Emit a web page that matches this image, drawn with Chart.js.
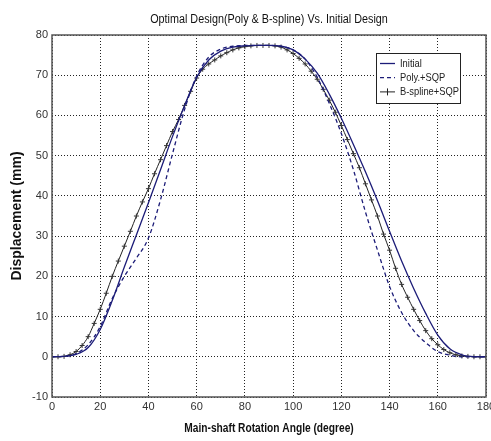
<!DOCTYPE html>
<html>
<head>
<meta charset="utf-8">
<script src="https://cdn.jsdelivr.net/npm/chart.js@4.4.1/dist/chart.umd.min.js"></script>
<style>
  html, body { margin: 0; padding: 0; background: #fff; }
</style>
</head>
<body>
<canvas id="camChart" width="491" height="441"></canvas>
<script>
// angles every 5 degrees for the two navy curves
const angleCoarse = [0, 5, 10, 15, 20, 25, 30, 35, 40, 45, 50, 55, 60, 65, 70, 75, 80, 85, 90,
    95, 100, 105, 110, 115, 120, 125, 130, 135, 140, 145, 150, 155, 160, 165, 170, 175, 180];
const initialDisp = [0, 0.1, 0.6, 2.3, 6.8, 14, 22.3, 30.3, 38.3, 46.5, 54.8, 62.5, 69.5, 73.8, 76, 77, 77.3, 77.4, 77.4,
    77.2, 76.3, 74, 70.5, 65.3, 59.3, 52.8, 46, 38.8, 31.2, 23.8, 17, 10.8, 5.4, 2, 0.5, 0.05, 0];
const polyDisp = [0, 0.1, 0.8, 3, 7.5, 14.5, 20, 24.5, 29.5, 39, 50.5, 61.5, 69.8, 74.5, 76.5, 77.2, 77.4, 77.4, 77.4,
    77.2, 76.3, 74, 69.5, 63, 55.5, 46.5, 36, 26.5, 17.5, 11, 6.5, 3.5, 1.3, 0.4, 0, 0, 0];

// b-spline result has dense markers, read every 2.5 degrees
const angleFine = [0, 2.5, 5, 7.5, 10, 12.5, 15, 17.5, 20, 22.5, 25, 27.5, 30, 32.5, 35, 37.5, 40, 42.5, 45, 47.5,
    50, 52.5, 55, 57.5, 60, 62.5, 65, 67.5, 70, 72.5, 75, 77.5, 80, 82.5, 85, 87.5, 90, 92.5, 95, 97.5,
    100, 102.5, 105, 107.5, 110, 112.5, 115, 117.5, 120, 122.5, 125, 127.5, 130, 132.5, 135, 137.5, 140, 142.5, 145, 147.5,
    150, 152.5, 155, 157.5, 160, 162.5, 165, 167.5, 170, 172.5, 175, 177.5, 180];
const bsplineDisp = [0, 0, 0.1, 0.5, 1.3, 2.8, 5, 8.3, 11.8, 15.8, 20, 23.8, 27.5, 31.2, 35, 38.5, 41.8, 45.5, 49, 52.5,
    56, 59, 62.5, 66, 69.3, 71.5, 72.8, 73.8, 74.8, 75.6, 76.3, 76.8, 77.1, 77.3, 77.4, 77.4, 77.4, 77.3, 77, 76.3,
    75.4, 74.2, 72.8, 71, 69, 66.5, 63.8, 60.8, 57.5, 54, 50.5, 47, 43, 39, 35, 30.5, 26.5, 22, 18, 14.8,
    11.8, 9, 6.5, 4.5, 3, 1.8, 1, 0.5, 0.2, 0.1, 0, 0, 0];

const seriesLabels = ['Initial', 'Poly.+SQP', 'B-spline+SQP'];
const chartTitle = 'Optimal Design(Poly & B-spline) Vs. Initial Design';
const xTitle = 'Main-shaft Rotation Angle (degree)';

const navy = '#1c1c78';
const sans = "'Liberation Sans', Arial, sans-serif";

Chart.defaults.font.family = sans;

function toPoints(xs, ys) {
    return xs.map((x, i) => ({ x: x, y: ys[i] }));
}

// box around the plot area like matlab's axes
const framePlugin = {
    id: 'frame',
    afterDatasetsDraw(chart) {
        const { ctx, chartArea: a } = chart;
        ctx.save();
        ctx.strokeStyle = '#555';
        ctx.lineWidth = 1.5;
        ctx.strokeRect(a.left, a.top, a.right - a.left, a.bottom - a.top);
        ctx.restore();
    }
};

// the original uses a condensed font for the title and x label, squeeze them a bit
function narrowText(ctx, text, cx, cy, font, squeeze) {
    ctx.save();
    ctx.font = font;
    ctx.fillStyle = '#111';
    ctx.textAlign = 'center';
    ctx.textBaseline = 'middle';
    ctx.translate(cx, cy);
    ctx.scale(squeeze, 1);
    ctx.fillText(text, 0, 0);
    ctx.restore();
}

const titlesPlugin = {
    id: 'titles',
    afterDraw(chart) {
        const ctx = chart.ctx;
        const a = chart.chartArea;
        const cx = (a.left + a.right) / 2;
        narrowText(ctx, chartTitle, cx, 20, '12px ' + sans, 0.9);
        narrowText(ctx, xTitle, cx, 429, 'bold 12px ' + sans, 0.85);
    }
};

// legend box in the top right corner of the axes
const boxLegend = {
    id: 'boxLegend',
    afterDraw(chart) {
        const ctx = chart.ctx;
        const a = chart.chartArea;
        const left = a.right - 110, top = a.top + 18, w = 84, h = 50;
        ctx.save();
        ctx.fillStyle = '#fff';
        ctx.fillRect(left, top, w, h);
        ctx.strokeStyle = '#222';
        ctx.lineWidth = 1;
        ctx.strokeRect(left + 0.5, top + 0.5, w, h);
        ctx.textBaseline = 'middle';
        chart.data.datasets.forEach((ds, i) => {
            const y = top + 10.5 + i * 14.2;
            ctx.strokeStyle = ds.borderColor;
            ctx.lineWidth = ds.borderWidth;
            ctx.setLineDash(ds.borderDash || []);
            ctx.beginPath();
            ctx.moveTo(left + 4, y);
            ctx.lineTo(left + 19, y);
            ctx.stroke();
            ctx.setLineDash([]);
            if (ds.pointRadius > 0) {
                ctx.lineWidth = 1;
                ctx.beginPath();
                ctx.moveTo(left + 11.5, y - 3.5);
                ctx.lineTo(left + 11.5, y + 3.5);
                ctx.stroke();
            }
            ctx.save();
            ctx.font = '11px ' + sans;
            ctx.fillStyle = '#222';
            ctx.translate(left + 24, y);
            ctx.scale(0.85, 1);
            ctx.fillText(ds.label, 0, 0);
            ctx.restore();
        });
        ctx.restore();
    }
};

new Chart(document.getElementById('camChart'), {
    type: 'line',
    data: {
        datasets: [{
            label: seriesLabels[0],
            data: toPoints(angleCoarse, initialDisp),
            borderColor: navy,
            borderWidth: 1.3,
            pointRadius: 0,
            cubicInterpolationMode: 'monotone'
        }, {
            label: seriesLabels[1],
            data: toPoints(angleCoarse, polyDisp),
            borderColor: navy,
            borderWidth: 1.3,
            borderDash: [4, 3],
            pointRadius: 0,
            cubicInterpolationMode: 'monotone'
        }, {
            label: seriesLabels[2],
            data: toPoints(angleFine, bsplineDisp),
            borderColor: '#222',
            borderWidth: 1,
            pointStyle: 'cross',
            pointRadius: 2.5,
            pointBorderWidth: 1,
            pointBorderColor: '#333',
            cubicInterpolationMode: 'monotone'
        }]
    },
    options: {
        responsive: false,
        animation: false,
        layout: { padding: { left: 0, right: 4, top: 35, bottom: 0 } },
        plugins: {
            legend: { display: false },
            tooltip: { enabled: false },
            title: { display: false }
        },
        scales: {
            x: {
                type: 'linear',
                min: 0,
                max: 180,
                ticks: { stepSize: 20, color: '#333', font: { size: 11 }, padding: 3 },
                grid: { color: '#222', lineWidth: 1, drawTicks: false },
                border: { display: false, dash: [1, 2] },
                afterFit(scale) {
                    scale.height = 44;
                    scale.paddingLeft = 0;
                    scale.paddingRight = 0;
                }
            },
            y: {
                min: -10,
                max: 80,
                ticks: { stepSize: 10, color: '#333', font: { size: 11 }, padding: 4 },
                grid: { color: '#222', lineWidth: 1, drawTicks: false },
                border: { display: false, dash: [1, 2] },
                title: {
                    display: true,
                    text: 'Displacement (mm)',
                    color: '#111',
                    font: { size: 14, weight: 'bold' },
                    padding: { top: 9, bottom: 0 }
                },
                afterFit(scale) {
                    scale.width = 52;
                    scale.paddingTop = 0;
                    scale.paddingBottom = 0;
                }
            }
        }
    },
    plugins: [framePlugin, titlesPlugin, boxLegend]
});
</script>
</body>
</html>
